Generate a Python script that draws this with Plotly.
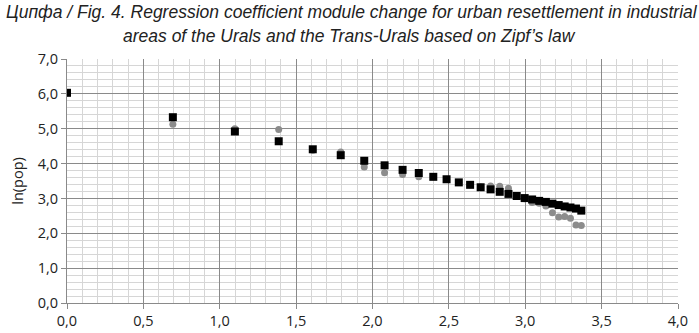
import plotly.graph_objects as go

x_ln_rank = [0.000, 0.693, 1.099, 1.386, 1.609, 1.792, 1.946, 2.079, 2.197, 2.303,
             2.398, 2.485, 2.565, 2.639, 2.708, 2.773, 2.833, 2.890, 2.944, 2.996,
             3.045, 3.091, 3.135, 3.178, 3.219, 3.258, 3.296, 3.332, 3.367]

y_black = [6.03, 5.33, 4.92, 4.64, 4.41, 4.24, 4.08, 3.95, 3.82, 3.73,
           3.62, 3.55, 3.46, 3.39, 3.32, 3.26, 3.19, 3.13, 3.07, 3.01,
           2.97, 2.93, 2.90, 2.85, 2.81, 2.77, 2.74, 2.71, 2.65]

y_gray = [6.03, 5.13, 5.00, 4.98, 4.38, 4.33, 3.90, 3.74, 3.69, 3.62,
          3.62, 3.55, 3.46, 3.39, 3.33, 3.36, 3.35, 3.29, 3.06, 2.99,
          2.88, 2.86, 2.78, 2.59, 2.47, 2.48, 2.43, 2.24, 2.22]

title_line1 = "Ципфа / Fig. 4. Regression coefficient module change for urban resettlement in industrial"
title_line2 = "areas of the Urals and the Trans-Urals based on Zipf’s law"

fig = go.Figure()
fig.add_trace(go.Scatter(x=x_ln_rank, y=y_gray, mode="markers",
                         marker=dict(symbol="circle", size=7, color="#8c8c8c"),
                         showlegend=False, hoverinfo="skip"))
fig.add_trace(go.Scatter(x=x_ln_rank, y=y_black, mode="markers",
                         marker=dict(symbol="square", size=8, color="#000000"),
                         showlegend=False, hoverinfo="skip"))

tick_font = dict(family="Open Sans, Noto Sans, sans-serif", size=14.5, color="#222222")
title_font1 = dict(family="Liberation Sans Narrow, Arial Narrow, sans-serif",
                   size=17.5, color="#222222", style="italic")
title_font2 = dict(family="Liberation Sans Narrow, Arial Narrow, sans-serif",
                   size=17.5, color="#222222", style="italic")

fig.add_annotation(text=title_line1, xref="paper", yref="paper", x=0.466, y=1.192,
                   xanchor="center", yanchor="middle", showarrow=False, font=title_font1)
fig.add_annotation(text=title_line2, xref="paper", yref="paper", x=0.463, y=1.096,
                   xanchor="center", yanchor="middle", showarrow=False, font=title_font2)

fig.update_layout(
    width=699, height=333,
    margin=dict(l=66.5, r=21, t=59.3, b=30.3),
    paper_bgcolor="white", plot_bgcolor="white",
    separators=", ",
    hovermode=False,
    xaxis=dict(range=[0, 4], dtick=0.5, tick0=0, tickformat=".1f", automargin=False,
               showgrid=True, gridcolor="#8a8a8a", gridwidth=1,
               minor=dict(dtick=0.1, showgrid=True, gridcolor="#d6d6d6", gridwidth=1),
               showline=True, linecolor="#8a8a8a", linewidth=1,
               ticks="outside", ticklen=5, tickcolor="#8a8a8a",
               zeroline=False, tickfont=tick_font),
    yaxis=dict(range=[0, 7], dtick=1, tick0=0, tickformat=".1f", automargin=False,
               showgrid=True, gridcolor="#8a8a8a", gridwidth=1,
               minor=dict(dtick=0.2, showgrid=True, gridcolor="#d6d6d6", gridwidth=1),
               showline=True, linecolor="#8a8a8a", linewidth=1,
               ticks="outside", ticklen=5, tickcolor="#8a8a8a",
               zeroline=False, tickfont=tick_font,
               title=dict(text="ln(pop)", font=tick_font, standoff=10)),
)

fig.write_html("out.html", config={"displayModeBar": False, "staticPlot": True},
               post_script="document.body.style.margin='0';")
